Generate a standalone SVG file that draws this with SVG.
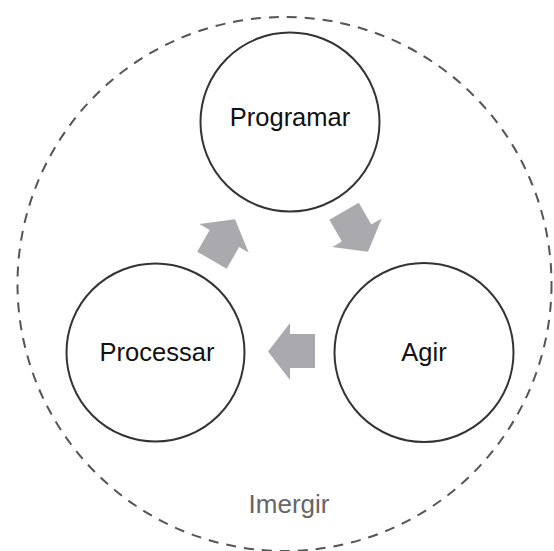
<svg xmlns="http://www.w3.org/2000/svg" xmlns:xlink="http://www.w3.org/1999/xlink" width="554" height="551" viewBox="0 0 554 551">
  <style>
    .node { fill: #ffffff; stroke: #333333; stroke-width: 2; }
    .label { font-family: "Liberation Sans", Arial, sans-serif; font-size: 25.5px; fill: #111111; text-anchor: middle; }
    .outer { fill: none; stroke: #555555; stroke-width: 2; stroke-dasharray: 10 8; }
    .outer-label { font-family: "Liberation Sans", Arial, sans-serif; font-size: 26px; fill: #666666; text-anchor: middle; }
    .arrow { fill: #a9a9ae; }
  </style>
  <defs>
    <path id="arrow" d="M23,-17.5 L-2,-17.5 L-2,-28.5 L-24,0 L-2,28.5 L-2,16.5 L23,16.5 Z"/>
  </defs>
  <rect width="554" height="551" fill="#ffffff"/>
  <g id="imergir">
    <circle class="outer" cx="284.5" cy="284" r="267"/>
    <text class="outer-label" x="289" y="513">Imergir</text>
  </g>
  <g id="connectors" class="arrow">
    <use xlink:href="#arrow" href="#arrow" transform="translate(292,351.5)"/>
    <use xlink:href="#arrow" href="#arrow" transform="translate(223,240) rotate(120)"/>
    <use xlink:href="#arrow" href="#arrow" transform="translate(356,231) rotate(-120)"/>
  </g>
  <g id="programar">
    <circle class="node" cx="290" cy="122" r="89.5"/>
    <text class="label" x="290" y="126">Programar</text>
  </g>
  <g id="processar">
    <circle class="node" cx="155.5" cy="352.5" r="89"/>
    <text class="label" x="157" y="361">Processar</text>
  </g>
  <g id="agir">
    <circle class="node" cx="424" cy="352.5" r="89.5"/>
    <text class="label" x="424" y="361">Agir</text>
  </g>
</svg>
